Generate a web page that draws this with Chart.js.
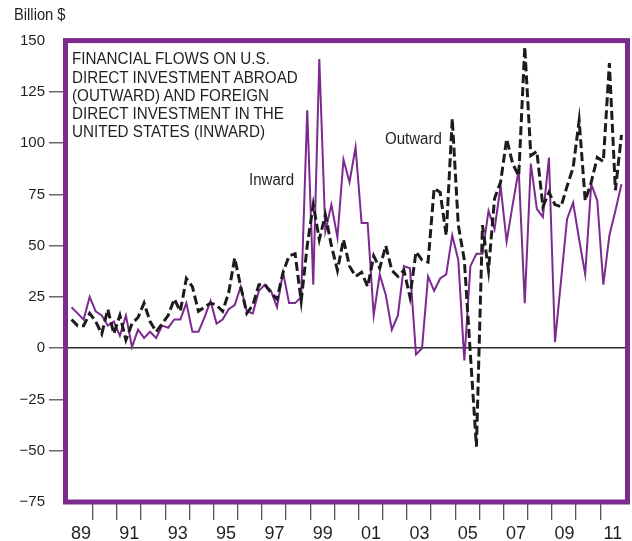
<!DOCTYPE html>
<html>
<head>
<meta charset="utf-8">
<script src="https://cdn.jsdelivr.net/npm/chart.js@4/dist/chart.umd.min.js"></script>
<style>
body { margin: 0; background: #fff; }
#wrap { position: relative; width: 632px; height: 541px; }
#flowChart { position: absolute; left: 0; top: 0; }
.lbl { position: absolute; font-family: 'Liberation Sans', Arial, sans-serif; font-size: 16px; line-height: 18.2px; color: #231f20; white-space: nowrap; transform: scaleX(0.94); transform-origin: 0 0; }
</style>
</head>
<body>
<div id="wrap">
    <canvas id="flowChart" width="632" height="541"></canvas>
    <div class="lbl" style="left:14px; top:6.1px; transform:scaleX(0.92)">Billion $</div>
    <div class="lbl" style="left:71.5px; top:50.4px; transform:scaleX(0.95)">FINANCIAL FLOWS ON U.S.<br>DIRECT INVESTMENT ABROAD<br>(OUTWARD) AND FOREIGN<br>DIRECT INVESTMENT IN THE<br>UNITED STATES (INWARD)</div>
    <div class="lbl" style="left:249px; top:171.4px">Inward</div>
    <div class="lbl" style="left:384.5px; top:130.4px">Outward</div>
</div>
<script>
// --- DATA (quarterly, billion $) ---
const years = [1989, 1990, 1991, 1992, 1993, 1994, 1995, 1996, 1997, 1998, 1999, 2000,
               2001, 2002, 2003, 2004, 2005, 2006, 2007, 2008, 2009, 2010, 2011];

const outward = [
    14, 11, 11, 17,   13, 7, 19, 7,     16, 4, 12, 15,    22, 13, 8, 12,
    16, 24, 18, 34,   30, 18, 20, 22,   21, 18, 27, 44,   30, 17, 21, 31,
    31, 27, 24, 37,   45, 46, 23, 50,   70, 53, 65, 50,   38, 53, 40, 35,
    37, 30, 45, 39,   50, 38, 35, 38,   25, 47, 43, 42,   78, 76, 55, 112,
    60, 43, -3, -48,  60, 38, 73, 81,   102, 90, 84, 147, 94, 96, 69, 76,
    70, 69, 79, 88,   111, 72, 81, 93,  91, 139, 77, 104
];

const inward = [
    20, 17, 14, 25,   18, 16, 11, 13,   6, 16, 0.5, 9,    5, 8, 5, 11,
    10, 14, 14, 22,   8, 8, 15, 23,     12, 14, 19, 21,   30, 18, 17, 28,
    31, 28, 20, 37,   22, 22, 25, 116,  31, 141, 57, 70,  54, 92, 81, 98,
    61, 61, 16, 36,   26, 9, 16, 40,    39, -3, 0, 35,    28, 34, 36, 55,
    43, -6, 40, 46,   46, 67, 58, 79,   52, 70, 87, 22,   90, 68, 64, 93,
    3, 33, 63, 71,    53, 36, 80, 72,   31, 55, 67, 80
];

const yTicks = [-75, -50, -25, 0, 25, 50, 75, 100, 125, 150];

const PURPLE = '#7d2a8f';
const FONT = "'Liberation Sans', Arial, sans-serif";

// each quarter sits at the middle of its quarter
const toPoints = (arr) => arr.map((v, i) => ({ x: years[0] + (i + 0.5) / 4, y: v }));

// purple frame round the plot area
const framePlugin = {
    id: 'frame',
    afterDraw(chart) {
        const { ctx, chartArea: a } = chart;
        ctx.save();
        ctx.strokeStyle = PURPLE;
        ctx.lineWidth = 5;
        ctx.strokeRect(a.left, a.top, a.right - a.left, a.bottom - a.top);
        ctx.restore();
    }
};

new Chart(document.getElementById('flowChart'), {
    type: 'line',
    data: {
        datasets: [
            { label: 'Outward', data: toPoints(outward), borderColor: '#1c1c1c', borderWidth: 3,
              borderDash: [9, 4], borderJoinStyle: 'miter', pointRadius: 0, tension: 0 },
            { label: 'Inward', data: toPoints(inward), borderColor: PURPLE, borderWidth: 2,
              borderJoinStyle: 'miter', pointRadius: 0, tension: 0 }
        ]
    },
    options: {
        responsive: false,
        animation: false,
        devicePixelRatio: 1,
        layout: { padding: { left: 0, top: 40.6, right: 4.5, bottom: 0 } },
        plugins: { legend: { display: false }, tooltip: { enabled: false } },
        scales: {
            x: {
                type: 'linear',
                min: 1988.875, max: 2012.125,
                afterBuildTicks: (axis) => { axis.ticks = years.map(y => ({ value: y })); },
                afterFit: (axis) => { axis.height = 39; },
                border: { display: false },
                grid: {
                    drawOnChartArea: false, drawTicks: true, tickLength: 18, lineWidth: 1.3,
                    tickColor: (c) => (c.tick && c.tick.value === 1989) ? 'rgba(0,0,0,0)' : '#555'
                },
                ticks: {
                    autoSkip: false, maxRotation: 0, minRotation: 0, padding: 3.5, labelOffset: 12.5,
                    color: '#231f20', font: { family: FONT, size: 18 },
                    callback: (v) => (v % 2 === 1 ? String(v).slice(2) : '')
                }
            },
            y: {
                min: -75, max: 150,
                afterBuildTicks: (axis) => { axis.ticks = yTicks.map(v => ({ value: v })); },
                afterFit: (axis) => { axis.width = 65.5; },
                border: { display: false },
                grid: {
                    drawOnChartArea: true, drawTicks: true, tickLength: 16.5, lineWidth: 1.5,
                    color: (c) => (c.tick && c.tick.value === 0) ? '#2b2b2b' : 'rgba(0,0,0,0)',
                    tickColor: (c) => (c.tick && (c.tick.value === 150 || c.tick.value === -75)) ? 'rgba(0,0,0,0)' : '#666'
                },
                ticks: {
                    padding: 4, color: '#231f20', font: { family: FONT, size: 15 },
                    callback: (v) => (v < 0 ? '\u2212' + Math.abs(v) : String(v))
                }
            }
        }
    },
    plugins: [framePlugin]
});
</script>
</body>
</html>
